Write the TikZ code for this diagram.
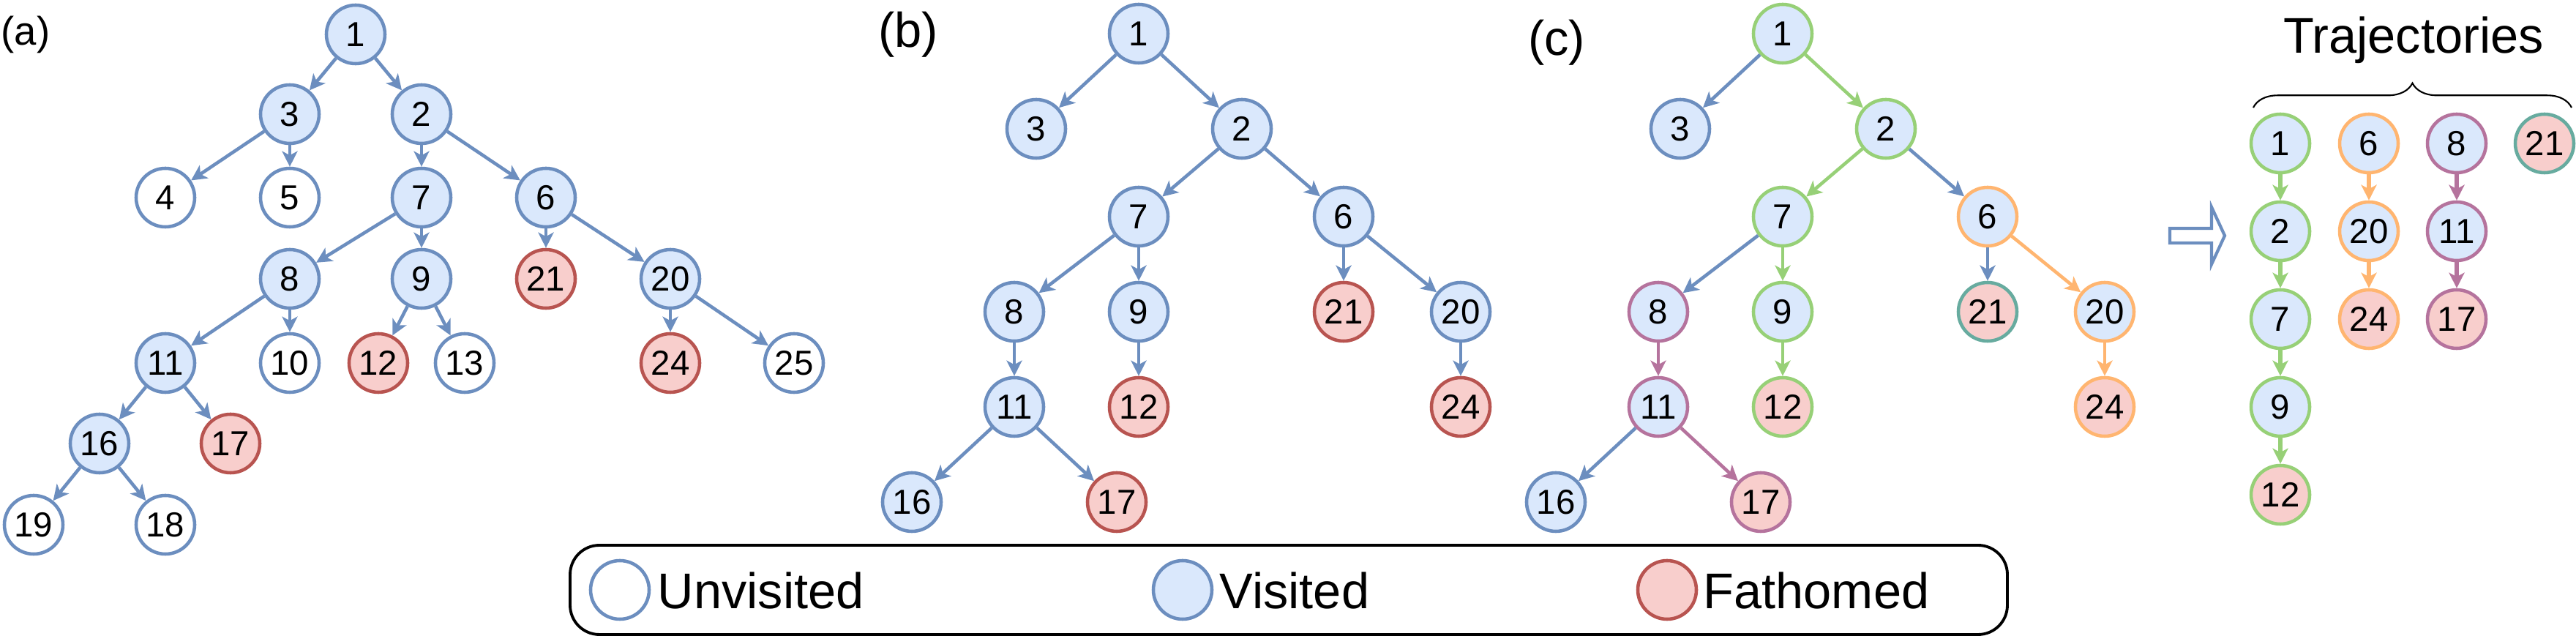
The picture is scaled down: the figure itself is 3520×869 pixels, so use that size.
\documentclass[tikz,border=0pt]{standalone}
\usepackage{fontspec}
\setmainfont{Liberation Sans}
\usetikzlibrary{arrows.meta,decorations.pathreplacing}

\definecolor{vblue}{HTML}{6C8EBF}
\definecolor{vfill}{HTML}{DAE8FC}
\definecolor{fred}{HTML}{B85450}
\definecolor{ffill}{HTML}{F8CECC}
\definecolor{tgreen}{HTML}{97D077}
\definecolor{torange}{HTML}{FFB570}
\definecolor{tpurple}{HTML}{B5739D}
\definecolor{tteal}{HTML}{67AB9F}

\tikzset{
  vnode/.style={circle, draw=vblue, fill=vfill, line width=1.3pt, minimum size=8mm,
    inner sep=0pt, font=\fontsize{13.5}{16}\selectfont},
  unode/.style={vnode, fill=white},
  fnode/.style={vnode, draw=fred, fill=ffill},
  tedge/.style={->, line width=1.3pt, draw=vblue},
  panel/.style={font=\fontsize{19}{22}\selectfont},
  bigtext/.style={font=\fontsize{19.5}{23}\selectfont},
}

\begin{document}
\begin{tikzpicture}[x=0.1mm, y=-0.1mm, >={Stealth[length=6pt,width=6pt,inset=1.6pt]}]
  \useasboundingbox (0,0) rectangle (3520,869);

  % ================= (a) 完整搜索树 =================
  \node[font=\fontsize{15.5}{18}\selectfont] (laba) at (35,47) {(a)};
  % 1. 节点 (按层)
  \node[vnode] (a1) at (486,47) {1};
  \node[vnode] (a3) at (396,156) {3};
  \node[vnode] (a2) at (576,156) {2};
  \node[unode] (a4) at (226,270) {4};
  \node[unode] (a5) at (396,270) {5};
  \node[vnode] (a7) at (576,270) {7};
  \node[vnode] (a6) at (746,270) {6};
  \node[vnode] (a8) at (396,381) {8};
  \node[vnode] (a9) at (576,381) {9};
  \node[fnode] (a21) at (746,381) {21};
  \node[vnode] (a20) at (916,381) {20};
  \node[vnode] (a11) at (226,496) {11};
  \node[unode] (a10) at (396,496) {10};
  \node[fnode] (a12) at (517,496) {12};
  \node[unode] (a13) at (635,496) {13};
  \node[fnode] (a24) at (916,496) {24};
  \node[unode] (a25) at (1085,496) {25};
  \node[vnode] (a16) at (136,606) {16};
  \node[fnode] (a17) at (315,606) {17};
  \node[unode] (a19) at (46,717) {19};
  \node[unode] (a18) at (226,717) {18};
  % 2. 连线
  \foreach \p/\q in {1/3,1/2,3/4,3/5,2/7,2/6,7/8,7/9,6/21,6/20,8/11,8/10,
                     9/12,9/13,20/24,20/25,11/16,11/17,16/19,16/18}
    \draw[tedge] (a\p) -- (a\q);

  % ================= (b) 已访问子树 =================
  \node[panel] (labb) at (1241,47) {(b)};
  \node[vnode] (b1) at (1556,46) {1};
  \node[vnode] (b3) at (1416,176) {3};
  \node[vnode] (b2) at (1697,176) {2};
  \node[vnode] (b7) at (1556,296) {7};
  \node[vnode] (b6) at (1836,296) {6};
  \node[vnode] (b8) at (1386,426) {8};
  \node[vnode] (b9) at (1556,426) {9};
  \node[fnode] (b21) at (1836,426) {21};
  \node[vnode] (b20) at (1996,426) {20};
  \node[vnode] (b11) at (1386,556) {11};
  \node[fnode] (b12) at (1556,556) {12};
  \node[fnode] (b24) at (1996,556) {24};
  \node[vnode] (b16) at (1246,686) {16};
  \node[fnode] (b17) at (1526,686) {17};
  \foreach \p/\q in {1/3,1/2,2/7,2/6,7/8,7/9,6/21,6/20,8/11,9/12,20/24,11/16,11/17}
    \draw[tedge] (b\p) -- (b\q);

  % ================= (c) 轨迹划分 (xshift 平移自 (b)) =================
  \node[panel] (labc) at (2127,58) {(c)};
  \begin{scope}[xshift=88mm]
    \node[vnode, draw=tgreen] (c1) at (1556,46) {1};
    \node[vnode] (c3) at (1416,176) {3};
    \node[vnode, draw=tgreen] (c2) at (1697,176) {2};
    \node[vnode, draw=tgreen] (c7) at (1556,296) {7};
    \node[vnode, draw=torange] (c6) at (1836,296) {6};
    \node[vnode, draw=tpurple] (c8) at (1386,426) {8};
    \node[vnode, draw=tgreen] (c9) at (1556,426) {9};
    \node[fnode, draw=tteal] (c21) at (1836,426) {21};
    \node[vnode, draw=torange] (c20) at (1996,426) {20};
    \node[vnode, draw=tpurple] (c11) at (1386,556) {11};
    \node[fnode, draw=tgreen] (c12) at (1556,556) {12};
    \node[fnode, draw=torange] (c24) at (1996,556) {24};
    \node[vnode] (c16) at (1246,686) {16};
    \node[fnode, draw=tpurple] (c17) at (1526,686) {17};
  \end{scope}
  \foreach \p/\q/\col in {1/3/vblue,1/2/tgreen,2/7/tgreen,2/6/vblue,7/8/vblue,7/9/tgreen,
                          6/21/vblue,6/20/torange,8/11/tpurple,9/12/tgreen,20/24/torange,
                          11/16/vblue,11/17/tpurple}
    \draw[tedge, draw=\col] (c\p) -- (c\q);

  % 空心箭头
  \draw[vblue, line width=1.2pt, fill=white]
    (2965,312) -- (3022,312) -- (3022,283) -- (3040,322) -- (3022,361) -- (3022,332) -- (2965,332) -- cycle;

  % ================= 轨迹 =================
  \node[bigtext, anchor=base] (trajtitle) at (3298,73) {Trajectories};
  \draw[line width=0.6pt, decorate, decoration={brace, amplitude=9.5pt}] (3079,147) -- (3514,147);
  % 1. 绿色轨迹
  \node[vnode, draw=tgreen] (t1) at (3116,196) {1};
  \node[vnode, draw=tgreen] (t2) at (3116,316) {2};
  \node[vnode, draw=tgreen] (t7) at (3116,436) {7};
  \node[vnode, draw=tgreen] (t9) at (3116,556) {9};
  \node[fnode, draw=tgreen] (t12) at (3116,676) {12};
  % 2. 橙色轨迹
  \node[vnode, draw=torange] (t6) at (3237,196) {6};
  \node[vnode, draw=torange] (t20) at (3237,316) {20};
  \node[fnode, draw=torange] (t24) at (3237,436) {24};
  % 3. 紫色轨迹
  \node[vnode, draw=tpurple] (t8) at (3357,196) {8};
  \node[vnode, draw=tpurple] (t11) at (3357,316) {11};
  \node[fnode, draw=tpurple] (t17) at (3357,436) {17};
  % 4. 单节点轨迹
  \node[fnode, draw=tteal] (t21) at (3477,196) {21};
  \foreach \p/\q/\col in {1/2/tgreen,2/7/tgreen,7/9/tgreen,9/12/tgreen,
                          6/20/torange,20/24/torange,8/11/tpurple,11/17/tpurple}
    \draw[tedge, line width=1.5pt, draw=\col] (t\p) -- (t\q);

  % ================= 图例 =================
  \node[draw, line width=1.1pt, rounded corners=4mm, minimum width=196.4mm, minimum height=12.2mm,
        inner sep=0pt] (legend) at (1761,806) {};
  \node[unode] (legu) at (847,806) {};
  \node[bigtext, anchor=base west, inner sep=0pt] (legut) at (898,832) {Unvisited};
  \node[vnode] (legv) at (1616,806) {};
  \node[bigtext, anchor=base west, inner sep=0pt] (legvt) at (1666,832) {Visited};
  \node[fnode] (legf) at (2278,806) {};
  \node[bigtext, anchor=base west, inner sep=0pt] (legft) at (2327,832) {Fathomed};
\end{tikzpicture}
\end{document}
